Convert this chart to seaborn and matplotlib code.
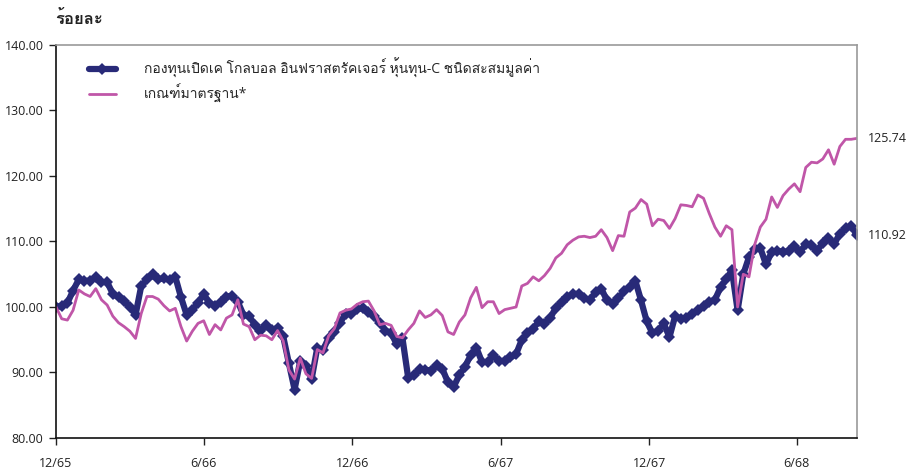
import matplotlib

matplotlib.use("Agg")
import matplotlib.pyplot as plt
import numpy as np
import pandas as pd
import seaborn as sns
from matplotlib import font_manager, ft2font


FUND_NAME = "กองทุนเปิดเค โกลบอล อินฟราสตรัคเจอร์ หุ้นทุน-C ชนิดสะสมมูลค่า"
BENCH_NAME = "เกณฑ์มาตรฐาน*"
Y_TITLE = "ร้อยละ"

START_DATE = "2022-12-01"
TICK_DATES = ["2022-12-01", "2023-06-01", "2023-12-01", "2024-06-01", "2024-12-01", "2025-06-01"]
TICK_LABELS = ["12/65", "6/66", "12/66", "6/67", "12/67", "6/68"]
Y_TICKS = [80, 90, 100, 110, 120, 130, 140]

# weekly values
fund = [
    100.0, 100.2, 100.6, 102.5, 104.2, 104.0, 104.0, 104.6, 103.8, 103.8,
    102.0, 101.5, 100.9, 100.0, 98.8, 103.2, 104.2, 105.0, 104.2, 104.4,
    104.1, 104.6, 101.5, 98.8, 99.6, 100.6, 102.0, 100.6, 100.2, 100.8,
    101.6, 101.7, 100.8, 98.8, 98.6, 97.3, 96.3, 97.3, 96.5, 96.8,
    95.5, 91.4, 87.4, 91.8, 91.0, 89.0, 93.8, 93.4, 95.3, 96.2,
    97.6, 99.0, 99.0, 99.7, 99.8, 99.2, 98.6, 97.6, 96.4, 96.0,
    94.3, 95.2, 89.2, 89.6, 90.6, 90.4, 90.3, 91.2, 90.6, 88.5,
    87.8, 89.6, 90.9, 92.6, 93.8, 91.6, 91.6, 92.6, 91.7, 91.8,
    92.3, 92.8, 95.0, 96.0, 96.7, 97.8, 97.4, 98.3, 99.9, 100.8,
    101.5, 102.0, 102.0, 101.3, 101.1, 102.3, 102.8, 101.0, 100.5, 101.3,
    102.4, 103.1, 104.0, 101.0, 97.8, 96.0, 96.4, 97.5, 95.4, 98.6,
    98.2, 98.3, 98.9, 99.6, 100.1, 100.8, 101.1, 103.0, 104.3, 105.6,
    99.5, 105.0, 107.6, 108.8, 109.0, 106.5, 108.4, 108.6, 108.4, 108.5,
    109.3, 108.4, 109.6, 109.5, 108.6, 109.8, 110.6, 109.6, 111.2, 112.0,
    112.4, 110.92,
]
benchmark = [
    100.0, 98.2, 98.0, 99.5, 102.6, 102.0, 101.6, 102.8, 101.1, 100.3,
    98.6, 97.6, 97.0, 96.3, 95.2, 99.0, 101.6, 101.6, 101.2, 100.2,
    99.4, 99.8, 97.0, 94.8, 96.3, 97.5, 97.9, 95.8, 97.3, 96.5,
    98.3, 98.8, 101.1, 97.4, 97.0, 95.0, 95.7, 95.6, 95.0, 96.4,
    94.8, 90.4, 89.0, 92.2, 89.8, 89.1, 93.5, 93.0, 95.6, 96.7,
    99.1, 99.5, 99.7, 100.4, 100.8, 100.9, 99.4, 97.3, 97.5, 97.2,
    95.5, 95.3, 96.5, 97.5, 99.4, 98.4, 98.8, 99.6, 98.7, 96.2,
    95.8, 97.7, 98.8, 101.4, 103.0, 99.9, 100.8, 100.8, 99.0, 99.6,
    99.8, 100.0, 103.2, 103.6, 104.6, 104.0, 104.8, 105.9, 107.5, 108.2,
    109.5, 110.2, 110.7, 110.8, 110.6, 110.8, 111.8, 110.6, 108.6, 110.9,
    110.8, 114.5, 115.1, 116.4, 115.7, 112.4, 113.4, 113.2, 112.0, 113.5,
    115.6, 115.5, 115.3, 117.1, 116.6, 114.3, 112.2, 110.8, 112.4, 111.8,
    100.0, 105.0, 104.6, 109.5, 112.2, 113.4, 116.8, 115.2, 117.0, 118.0,
    118.8, 117.6, 121.3, 122.1, 122.0, 122.6, 124.0, 121.8, 124.5, 125.6,
    125.6, 125.74,
]

NAVY = "#282A78"
PINK = "#C056A8"


def find_thai_font():
    for entry in font_manager.fontManager.ttflist:
        try:
            if 0x0E01 in ft2font.FT2Font(entry.fname).get_charmap():
                return entry.name
        except Exception:
            continue
    return None


sns.set_theme(style="white")
thai = find_thai_font()
families = ["Open Sans"] + ([thai] if thai else []) + ["DejaVu Sans"]
plt.rcParams["font.family"] = families

dates = pd.date_range(START_DATE, periods=len(fund), freq="7D")
df = pd.DataFrame({"date": dates, "fund": fund, "benchmark": benchmark})

fig = plt.figure(figsize=(9.08, 4.69), dpi=100)
ax = fig.add_axes([0.0617, 0.0661, 0.882, 0.838])

sns.lineplot(
    data=df, x="date", y="fund", ax=ax, color=NAVY, linewidth=4.5,
    marker="D", markersize=6.5, markeredgewidth=0, label=FUND_NAME,
)
sns.lineplot(
    data=df, x="date", y="benchmark", ax=ax, color=PINK, linewidth=2,
    label=BENCH_NAME,
)

ax.set_xlim(dates[0], dates[-1])
ax.set_ylim(80, 140)
ax.set_yticks(Y_TICKS)
ax.set_yticklabels([f"{v:.2f}" for v in Y_TICKS])
ax.set_xticks(pd.to_datetime(TICK_DATES))
ax.set_xticklabels(TICK_LABELS)
ax.set_xlabel("")
ax.set_ylabel("")
ax.tick_params(axis="both", labelsize=9, colors="#222222", length=5, width=1, direction="out")
ax.tick_params(axis="x", pad=9)
ax.tick_params(axis="y", pad=4)
ax.xaxis.set_ticks_position("bottom")
ax.yaxis.set_ticks_position("left")

for side in ["left", "bottom"]:
    ax.spines[side].set_color("#111111")
    ax.spines[side].set_linewidth(1.2)
for side in ["top", "right"]:
    ax.spines[side].set_color("#9a9a9a")
    ax.spines[side].set_linewidth(1.2)

ax.legend(
    loc="upper left", bbox_to_anchor=(0.025, 1.0), frameon=False,
    fontsize=10, handlelength=2.0, handletextpad=2.0, labelspacing=0.45,
    numpoints=1,
)

ax.annotate(f"{benchmark[-1]:.2f}", xy=(1, benchmark[-1]), xycoords=("axes fraction", "data"),
            xytext=(8, 0), textcoords="offset points", va="center", fontsize=9, color="#222222")
ax.annotate(f"{fund[-1]:.2f}", xy=(1, fund[-1]), xycoords=("axes fraction", "data"),
            xytext=(8, 0), textcoords="offset points", va="center", fontsize=9, color="#222222")

fig.text(0.061, 0.96, Y_TITLE, fontsize=12, fontweight="bold", va="center", ha="left", color="#222222")

fig.savefig("out.png", dpi=100)
